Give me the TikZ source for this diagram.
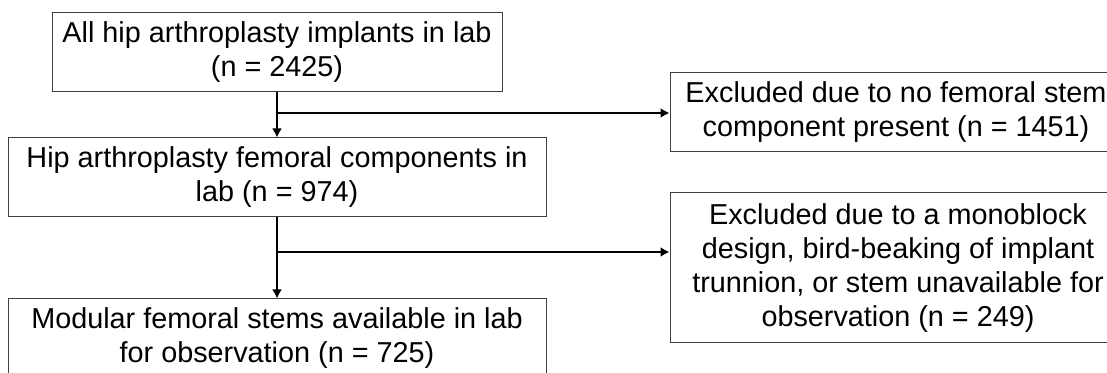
\documentclass[tikz,border=0pt]{standalone}
\usepackage{fontspec}
\setmainfont{Liberation Sans}
\usetikzlibrary{arrows.meta}

\begin{document}
\begin{tikzpicture}[x=0.5pt,y=-0.5pt,
		box/.style={draw=black!75, line width=0.5pt, align=center, inner sep=0pt, minimum height=39.5pt, font=\fontsize{14.4}{17}\selectfont},
		arr/.style={line width=1pt, -{Latex[length=4.5pt,width=5pt]}}]
		\useasboundingbox (0,0) rectangle (1107,373);
		
		\node[box, minimum width=225pt] (1) at (277,52.5) {All hip arthroplasty implants in lab\\(n = 2425)};
		\node[box, minimum width=269pt] (2) at (277,177.5) {Hip arthroplasty femoral components in\\lab (n = 974)};
		\node[box, minimum width=269pt] (3) at (277,338.5) {Modular femoral stems available in lab\\for observation (n = 725)};
		\node[box, minimum width=226pt] (4) at (896,112.5) {Excluded due to no femoral stem\\component present (n = 1451)};
		\node[box, minimum width=228pt, minimum height=75pt] (5) at (898,268) {Excluded due to a monoblock\\design, bird-beaking of implant\\trunnion, or stem unavailable for\\observation (n = 249)};
		
		\coordinate (b1) at (277,113);
		\coordinate (b2) at (277,252);
		
		\draw[arr] (1) to (2);
		\draw[arr] (2) to (3);
		\draw[arr] (b1) to (b1 -| 4.west);
		\draw[arr] (b2) to (b2 -| 5.west);
		
	\end{tikzpicture}
\end{document}
